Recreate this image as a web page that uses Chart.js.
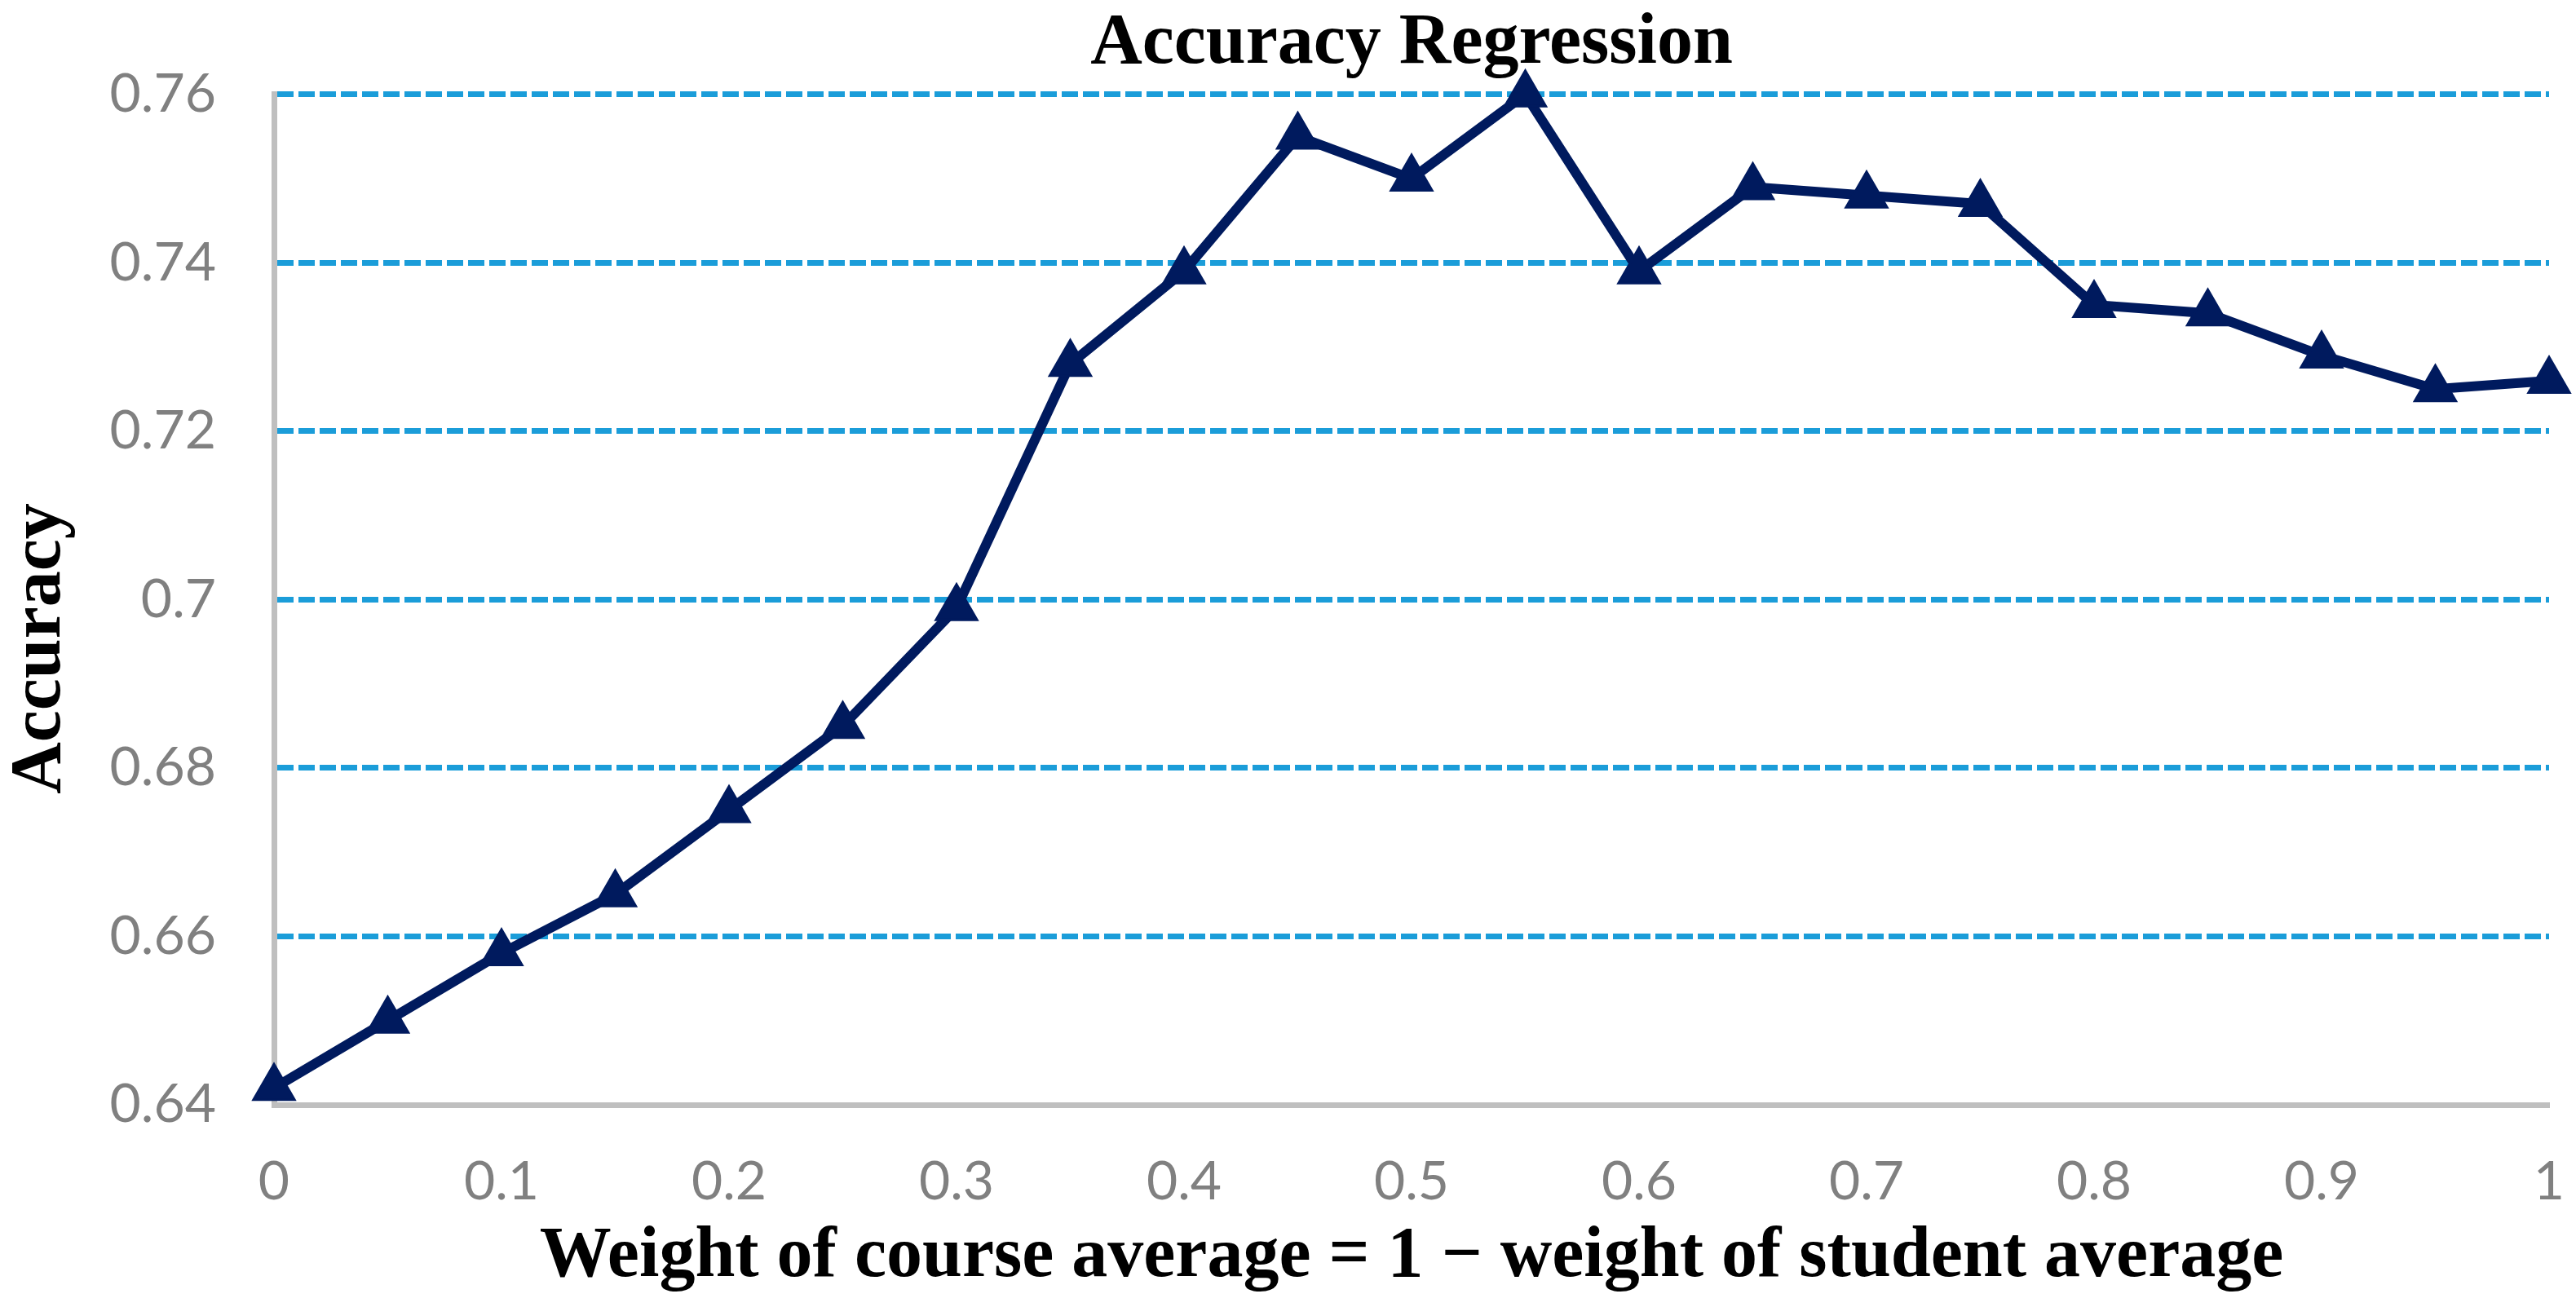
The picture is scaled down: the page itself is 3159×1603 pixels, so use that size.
<!DOCTYPE html>
<html>
<head>
<meta charset="utf-8">
<title>Accuracy Regression</title>
<script src="https://cdn.jsdelivr.net/npm/chart.js@4/dist/chart.umd.min.js"></script>
<style>
  html, body { margin: 0; padding: 0; background: #fff; }
  #wrap { width: 3159px; height: 1603px; }
</style>
</head>
<body>
<div id="wrap"><canvas id="chart"></canvas></div>
<script>
// Accuracy vs. weight of the course average (line with triangle markers).

const TITLE = "Accuracy Regression"
const X_TITLE = "Weight of course average = 1 \u2212 weight of student average"
const Y_TITLE = "Accuracy"

const WEIGHTS = [0, 0.05, 0.1, 0.15, 0.2, 0.25, 0.3, 0.35, 0.4, 0.45, 0.5,
                 0.55, 0.6, 0.65, 0.7, 0.75, 0.8, 0.85, 0.9, 0.95, 1]
const ACCURACY = [0.642, 0.650, 0.658, 0.665, 0.675, 0.685, 0.699, 0.728, 0.739, 0.755, 0.750,
                  0.760, 0.739, 0.749, 0.748, 0.747, 0.735, 0.734, 0.729, 0.725, 0.726]

const X_TICKS = [0, 0.1, 0.2, 0.3, 0.4, 0.5, 0.6, 0.7, 0.8, 0.9, 1]
const Y_TICKS = [0.64, 0.66, 0.68, 0.7, 0.72, 0.74, 0.76]

const NAVY = "#001a5e"
const GRID_BLUE = "#1b9dd9"
const AXIS_GRAY = "#bfbfbf"
const TICK_GRAY = "#808080"
const SERIF = "'Liberation Serif', 'DejaVu Serif', serif"
const SANS = "Lato, 'Open Sans', 'Noto Sans', sans-serif"

// Excel puts the value-axis title in the middle of the whole chart, not the plot
const yTitlePlugin = {
  id: "yTitle",
  afterDraw(chart) {
    const ctx = chart.ctx
    ctx.save()
    ctx.translate(50, chart.height / 2 - 6)
    ctx.rotate(-Math.PI / 2)
    ctx.font = `bold 88px ${SERIF}`
    ctx.fillStyle = "#000"
    ctx.textAlign = "center"
    ctx.textBaseline = "middle"
    ctx.fillText(Y_TITLE, 0, 0)
    ctx.restore()
  }
}

const points = WEIGHTS.map((w, i) => ({ x: w, y: ACCURACY[i] }))

new Chart(document.getElementById("chart"), {
  type: "line",
  data: {
    datasets: [{
      label: Y_TITLE,
      data: points,
      borderColor: NAVY,
      backgroundColor: NAVY,
      borderWidth: 12,
      tension: 0,
      pointStyle: "triangle",
      pointRadius: 29,
      pointBorderWidth: 3,
      pointBackgroundColor: NAVY,
      pointBorderColor: NAVY,
      clip: false
    }]
  },
  plugins: [yTitlePlugin],
  options: {
    responsive: true,
    maintainAspectRatio: false,
    devicePixelRatio: 1,
    animation: false,
    layout: { padding: { left: 0, right: 33, top: 0, bottom: 0 } },
    plugins: {
      legend: { display: false },
      tooltip: { enabled: false },
      title: {
        display: true,
        text: TITLE,
        fullSize: false,
        color: "#000",
        font: { family: SERIF, size: 88, weight: "bold", lineHeight: 1.1 },
        padding: { top: 6, bottom: 13 }
      }
    },
    scales: {
      x: {
        type: "linear",
        min: 0,
        max: 1,
        afterBuildTicks: axis => { axis.ticks = X_TICKS.map(v => ({ value: v })) },
        // the big tick padding would otherwise also be reserved left and right
        afterFit: axis => { axis.paddingLeft = 0; axis.paddingRight = 0 },
        ticks: {
          color: TICK_GRAY,
          font: { family: SANS, size: 66, weight: 400 },
          padding: 55,
          maxRotation: 0,
          callback: v => String(v)
        },
        grid: { display: false, drawTicks: false },
        border: { display: true, color: AXIS_GRAY, width: 7 },
        title: {
          display: true,
          text: X_TITLE,
          color: "#000",
          font: { family: SERIF, size: 88, weight: "bold", lineHeight: 1.1 },
          // tick padding is counted twice in the axis height, take it back here
          padding: { top: -50, bottom: 12 }
        }
      },
      y: {
        type: "linear",
        min: 0.64,
        max: 0.76,
        afterBuildTicks: axis => { axis.ticks = Y_TICKS.map(v => ({ value: v })) },
        afterFit: axis => { axis.width = 336 },
        ticks: {
          color: TICK_GRAY,
          font: { family: SANS, size: 66, weight: 400 },
          padding: 71,
          callback: v => String(v)
        },
        grid: {
          drawTicks: false,
          lineWidth: 7,
          color: c => (c.tick && c.tick.value === Y_TICKS[0]) ? "rgba(0,0,0,0)" : GRID_BLUE
        },
        // in v4 border.dash is what dashes the gridlines
        border: { display: true, color: AXIS_GRAY, width: 7, dash: [20, 6] },
        title: { display: false }
      }
    }
  }
})
</script>
</body>
</html>
